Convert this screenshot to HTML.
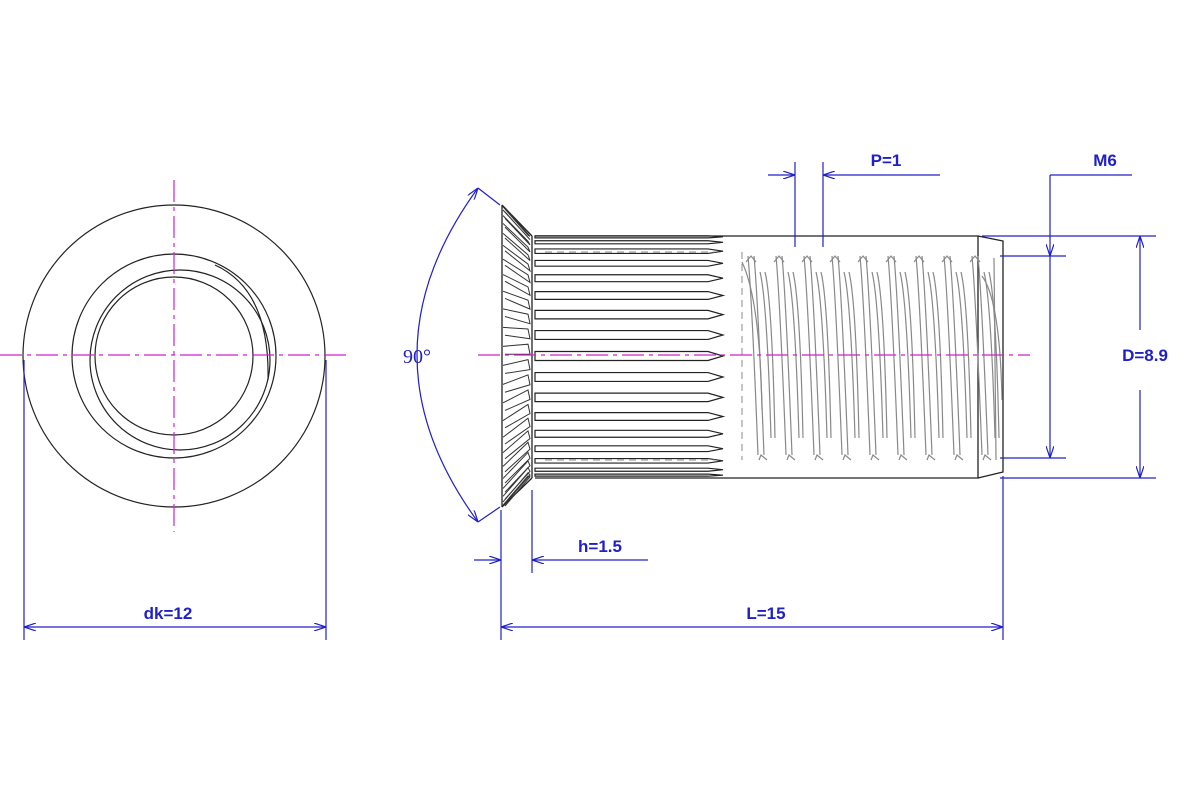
<!DOCTYPE html>
<html><head><meta charset="utf-8"><style>
html,body{margin:0;padding:0;background:#fff;}
svg{display:block;}
text{font-family:"Liberation Sans",sans-serif;font-weight:bold;fill:#2020c8;font-size:17px;}
</style></head><body>
<svg id="s" width="1200" height="800" viewBox="0 0 1200 800" xmlns="http://www.w3.org/2000/svg">
<defs>
<marker id="a" viewBox="0 0 12 8" refX="12" refY="4" markerWidth="12" markerHeight="8" orient="auto-start-reverse" markerUnits="userSpaceOnUse"><path d="M0,0 L12,4 L0,8" fill="none" stroke="#2020c8" stroke-width="1.2"/></marker>
</defs>
<g fill="none" stroke="#222" stroke-width="1.2">
<circle cx="174" cy="356" r="151"/>
<circle cx="174" cy="356" r="102"/>
<circle cx="180" cy="360" r="90"/>
<circle cx="174" cy="356" r="79"/>
<path d="M215 265 Q270 290 268 380" />
</g>
<g stroke="#d020d0" stroke-width="1.2" stroke-dasharray="22,5,4,5" fill="none">
<line x1="0" y1="355" x2="348" y2="355"/>
<line x1="174" y1="180" x2="174" y2="532"/>
</g>
<g fill="none" stroke="#222" stroke-width="1.3">
<path d="M502 205 L502 507 M502 205 L532 236 M502 507 L532 478 M532 236 L532 478"/>
<path d="M535 236 L978 236 L978 478 L535 478"/>
<path d="M978 236 L1003 241 L1003 472 L978 478"/>
</g>
<g id="knurl" fill="none" stroke="#333" stroke-width="1"></g>
<g id="ribs" fill="none" stroke="#222" stroke-width="1.2"></g>
<g id="thr" fill="none" stroke="#888" stroke-width="1.2"></g>
<g fill="none" stroke="#888" stroke-width="1" stroke-dasharray="7,5">
<line x1="545" y1="252" x2="715" y2="252"/>
<line x1="545" y1="460" x2="715" y2="460"/>
<line x1="742" y1="252" x2="742" y2="460"/>
</g>
<line x1="478" y1="355" x2="1030" y2="355" stroke="#d020d0" stroke-width="1.2" stroke-dasharray="22,5,4,5"/>
<g stroke="#2020c8" stroke-width="1.2" fill="none">
<line x1="24" y1="360" x2="24" y2="640"/>
<line x1="326" y1="360" x2="326" y2="640"/>
<line x1="24" y1="627" x2="326" y2="627" marker-start="url(#a)" marker-end="url(#a)"/>
<line x1="501" y1="510" x2="501" y2="640"/>
<line x1="1003" y1="476" x2="1003" y2="640"/>
<line x1="501" y1="627" x2="1003" y2="627" marker-start="url(#a)" marker-end="url(#a)"/>
<line x1="532" y1="490" x2="532" y2="573"/>
<line x1="474" y1="560" x2="501" y2="560" marker-end="url(#a)"/>
<line x1="648" y1="560" x2="532" y2="560" marker-end="url(#a)"/>
<line x1="795" y1="162" x2="795" y2="247"/>
<line x1="823" y1="162" x2="823" y2="247"/>
<line x1="768" y1="175" x2="795" y2="175" marker-end="url(#a)"/>
<line x1="940" y1="175" x2="823" y2="175" marker-end="url(#a)"/>
<line x1="1050" y1="175" x2="1132" y2="175"/>
<line x1="1050" y1="175" x2="1050" y2="256" marker-end="url(#a)"/>
<line x1="1050" y1="256" x2="1050" y2="458" marker-end="url(#a)"/>
<line x1="1000" y1="256" x2="1066" y2="256"/>
<line x1="1000" y1="458" x2="1066" y2="458"/>
<line x1="982" y1="236" x2="1156" y2="236"/>
<line x1="1000" y1="478" x2="1156" y2="478"/>
<line x1="1140" y1="330" x2="1140" y2="236" marker-end="url(#a)"/>
<line x1="1140" y1="390" x2="1140" y2="478" marker-end="url(#a)"/>
<path d="M478 188 Q356 355 478 522" marker-start="url(#a)" marker-end="url(#a)"/>
<line x1="478" y1="188" x2="500" y2="205"/>
<line x1="478" y1="522" x2="500" y2="507"/>
</g>
<text x="168" y="619" text-anchor="middle">dk=12</text>
<text x="766" y="619" text-anchor="middle">L=15</text>
<text x="600" y="552" text-anchor="middle">h=1.5</text>
<text x="886" y="166" text-anchor="middle">P=1</text>
<text x="1105" y="166" text-anchor="middle">M6</text>
<text x="1145" y="361" text-anchor="middle">D=8.9</text>
<text x="417" y="363" text-anchor="middle" style="font-family:'Liberation Serif',serif;font-weight:normal;font-size:20px">90°</text>
</svg>
<script>
var NS="http://www.w3.org/2000/svg";
function el(g,t,a){var e=document.createElementNS(NS,t);for(var k in a)e.setAttribute(k,a[k]);document.getElementById(g).appendChild(e);}
for(var i=0;i<17;i++){var th=(-80+10*i)*Math.PI/180;var y=356+121*Math.sin(th);var h=Math.max(2,9*Math.cos(th));
 var x0=535,x1=708,x2=723;
 el("ribs","path",{d:"M"+x0+" "+(y-h/2)+" L"+x1+" "+(y-h/2)+" L"+x2+" "+y+" L"+x1+" "+(y+h/2)+" L"+x0+" "+(y+h/2)+" Z"});}
for(var i=0;i<24;i++){var th=(-84+7.3*i)*Math.PI/180;var y=356+150*Math.sin(th);var yb=356+121*Math.sin(th);
 el("knurl","path",{d:"M503 "+y+" L528 "+(yb-4*Math.cos(th))+" L530 "+(yb+6*Math.cos(th))+" L505 "+(y+8*Math.cos(th))});}
for(var i=0;i<9;i++){var x=748+i*28;
 el("thr","path",{d:"M"+x+" 256 Q"+(x+4)+" 300 "+(x+10)+" 455"});
 el("thr","path",{d:"M"+(x+6)+" 256 Q"+(x+10)+" 300 "+(x+16)+" 455"});
 el("thr","path",{d:"M"+(x-2)+" 262 L"+(x+3)+" 256 L"+(x+8)+" 262"});
 el("thr","path",{d:"M"+(x+11)+" 460 L"+(x+13)+" 455 L"+(x+19)+" 460"});
 el("thr","path",{d:"M"+(x+17)+" 272 Q"+(x+24)+" 300 "+(x+27)+" 438"});
 el("thr","path",{d:"M"+(x+12)+" 272 Q"+(x+19)+" 300 "+(x+23)+" 438"});}
el("thr","path",{d:"M742 262 Q760 300 762 410"});
el("thr","path",{d:"M982 276 Q1000 300 1002 400"});
el("thr","path",{d:"M994 258 L996 460"});
</script>
</body></html>
